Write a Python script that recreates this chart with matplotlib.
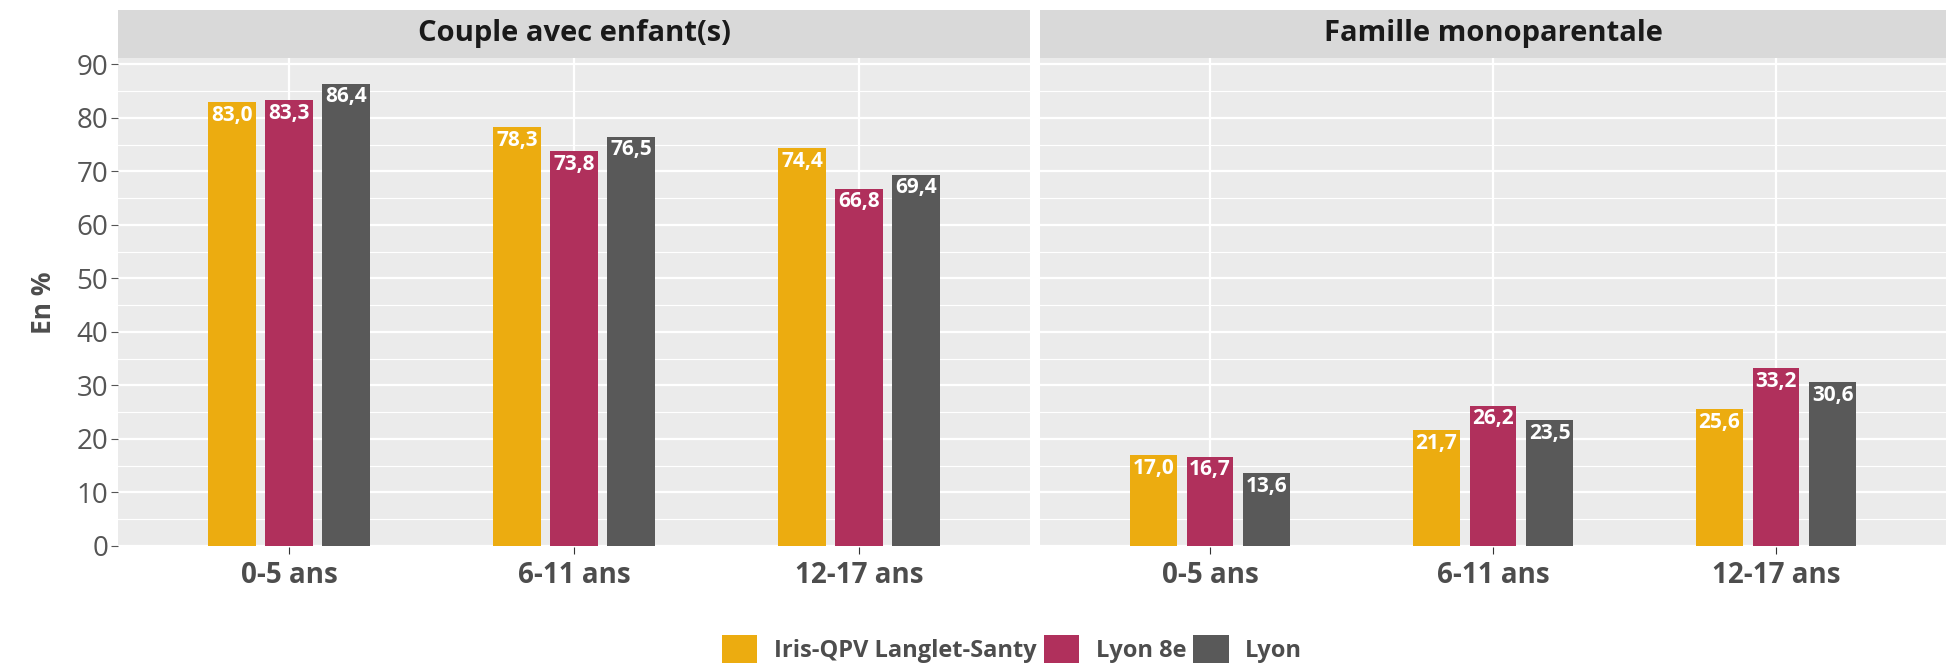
import matplotlib.pyplot as plt
import numpy as np
from matplotlib.patches import Patch

plt.rcParams['font.family'] = ['Open Sans', 'DejaVu Sans']

# Data
ages = ['0-5 ans', '6-11 ans', '12-17 ans']
facets = ['Couple avec enfant(s)', 'Famille monoparentale']
series = ['Iris-QPV Langlet-Santy', 'Lyon 8e', 'Lyon']
couple = {'Iris-QPV Langlet-Santy': [83.0, 78.3, 74.4],
          'Lyon 8e': [83.3, 73.8, 66.8],
          'Lyon': [86.4, 76.5, 69.4]}
mono = {'Iris-QPV Langlet-Santy': [17.0, 21.7, 25.6],
        'Lyon 8e': [16.7, 26.2, 33.2],
        'Lyon': [13.6, 23.5, 30.6]}
colors = ['#ECAC10', '#B0305C', '#595959']

W, H = 1946, 668
fig = plt.figure(figsize=(W / 100, H / 100), dpi=100)

panels = [(118, 1030), (1040, 1946)]
p_top, p_bot = 58, 547
s_top = 10

x = np.arange(len(ages))
bw = 0.165
offs = [-0.2, 0, 0.2]

for i, (title, data) in enumerate(zip(facets, [couple, mono])):
    x0, x1 = panels[i]
    ax = fig.add_axes([x0 / W, 1 - p_bot / H, (x1 - x0) / W, (p_bot - p_top) / H])
    ax.set_facecolor('#EBEBEB')
    ax.set_xlim(-0.6, 2.6)
    ax.set_ylim(-0.2, 91.2)
    ax.set_yticks(np.arange(0, 91, 10))
    ax.set_yticks(np.arange(5, 91, 10), minor=True)
    ax.grid(True, which='major', color='white', lw=1.6)
    ax.grid(True, which='minor', axis='y', color='white', lw=0.8)
    ax.set_axisbelow(True)
    for sp in ax.spines.values():
        sp.set_visible(False)
    ax.set_xticks(x)
    ax.set_xticklabels(ages, fontsize=20, fontweight='bold', color='#4D4D4D')
    ax.tick_params(axis='x', length=5, color='#333333', pad=5)
    ax.tick_params(axis='y', which='major', length=5, color='#555555',
                   labelsize=20, labelcolor='#555555', pad=2)
    ax.tick_params(axis='y', which='minor', length=0)
    if i == 0:
        ax.set_ylabel('En %', fontsize=19, fontweight='bold', color='#4D4D4D', labelpad=14)
    else:
        ax.tick_params(axis='y', which='major', length=0, labelleft=False)

    for j, s in enumerate(series):
        vals = data[s]
        ax.bar(x + offs[j], vals, width=bw, color=colors[j], zorder=2)
        for xi, v in zip(x + offs[j], vals):
            ax.text(xi, v - 0.5, f'{v:.1f}'.replace('.', ','), ha='center', va='top',
                    color='white', fontsize=15, fontweight='bold', zorder=3)

    # facet strip
    sax = fig.add_axes([x0 / W, 1 - p_top / H, (x1 - x0) / W, (p_top - s_top) / H])
    sax.set_facecolor('#D9D9D9')
    sax.set_xticks([])
    sax.set_yticks([])
    for sp in sax.spines.values():
        sp.set_visible(False)
    sax.text(0.5, 0.5, title, ha='center', va='center', fontsize=21,
             fontweight='bold', color='#1A1A1A', transform=sax.transAxes)

handles = [Patch(facecolor=c, label=s) for c, s in zip(colors, series)]
leg = fig.legend(handles=handles, loc='center', bbox_to_anchor=(1012 / W, 1 - 649 / H),
                 ncol=3, frameon=False, fontsize=17, handlelength=1.5, handleheight=1.5,
                 handletextpad=0.7, columnspacing=0.3)
for t in leg.get_texts():
    t.set_color('#4D4D4D')
    t.set_fontweight('bold')

fig.savefig('out.png', dpi=100)
